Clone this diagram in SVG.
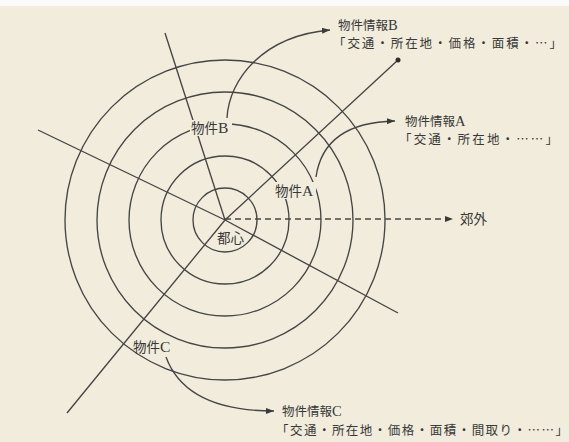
<svg xmlns="http://www.w3.org/2000/svg" width="569" height="442" viewBox="0 0 569 442">
  <style>
    .ring { fill: none; stroke: #454545; stroke-width: 1.35; }
    .ray { fill: none; stroke: #454545; stroke-width: 1.35; }
    .conn { fill: none; stroke: #454545; stroke-width: 1.35; }
    .dash { stroke-dasharray: 6 4; }
    .lbl { font-family: "Liberation Serif", "Noto Sans CJK JP", serif; font-size: 13.5px; fill: #383838; }
    .head { font-family: "Liberation Serif", "Noto Sans CJK JP", serif; font-size: 12.5px; fill: #383838; }
    .body { font-family: "Noto Sans CJK JP", sans-serif; font-size: 12.5px; fill: #383838; }
    .lat1 { font-size: 15.5px; }
    .lat2 { font-size: 14.5px; }
    .mask { fill: #f1ecdc; }
  </style>
  <defs>
    <marker id="arrow" markerWidth="8" markerHeight="6" refX="8" refY="3" orient="auto" markerUnits="userSpaceOnUse">
      <path d="M0,0 L8,3 L0,6 z" fill="#3a3a3a"/>
    </marker>
  </defs>

  <rect x="0" y="0" width="569" height="442" fill="#f1ecdc"/>
  <rect x="0" y="0" width="569" height="6" fill="#fbfaf6"/>

  <g id="rings">
    <circle class="ring" cx="225" cy="220" r="32"/>
    <circle class="ring" cx="225" cy="220" r="64"/>
    <circle class="ring" cx="225" cy="220" r="96"/>
    <circle class="ring" cx="225" cy="220" r="128"/>
    <circle class="ring" cx="225" cy="220" r="160"/>
  </g>

  <g id="rays">
    <line class="ray" x1="165" y1="33" x2="225" y2="220"/>
    <polyline class="ray" points="38,130 225,220 398,313"/>
    <polyline class="ray" points="67,413 225,220 398,60"/>
    <circle cx="398" cy="60" r="2.5" fill="#2e2e2e"/>
  </g>

  <g id="connectors">
    <path class="conn" d="M227,118 C229,80 262,36 330,30" marker-end="url(#arrow)"/>
    <path class="conn" d="M316,177 C321,142 346,122 395,121" marker-end="url(#arrow)"/>
    <path class="conn" d="M166,357 C180,395 220,411 274,411" marker-end="url(#arrow)"/>
    <path class="conn dash" d="M225,219 L453,219" marker-end="url(#arrow)"/>
  </g>

  <g id="node-toshin">
    <text class="lbl" x="217" y="243">都心</text>
  </g>

  <g id="node-bukkenB">
    <rect class="mask" x="190" y="120" width="42" height="16"/>
    <text class="lbl" x="191" y="133">物件<tspan class="lat1">B</tspan></text>
  </g>

  <g id="node-bukkenA">
    <rect class="mask" x="274" y="182" width="42" height="17"/>
    <text class="lbl" x="275" y="196">物件<tspan class="lat1">A</tspan></text>
  </g>

  <g id="node-bukkenC">
    <text class="lbl" x="133" y="352">物件<tspan class="lat1">C</tspan></text>
  </g>

  <g id="node-kougai">
    <text class="lbl" x="460" y="224">郊外</text>
  </g>

  <g id="node-infoB">
    <text class="head" x="338" y="30">物件情報<tspan class="lat2">B</tspan></text>
    <text class="body" x="333" y="48" textLength="229" lengthAdjust="spacing">「交通・所在地・価格・面積・…」</text>
  </g>

  <g id="node-infoA">
    <text class="head" x="405" y="126">物件情報<tspan class="lat2">A</tspan></text>
    <text class="body" x="399" y="144" textLength="159" lengthAdjust="spacing">「交通・所在地・……」</text>
  </g>

  <g id="node-infoC">
    <text class="head" x="282" y="416">物件情報<tspan class="lat2">C</tspan></text>
    <text class="body" x="276" y="435" textLength="292" lengthAdjust="spacing">「交通・所在地・価格・面積・間取り・……」</text>
  </g>
</svg>
